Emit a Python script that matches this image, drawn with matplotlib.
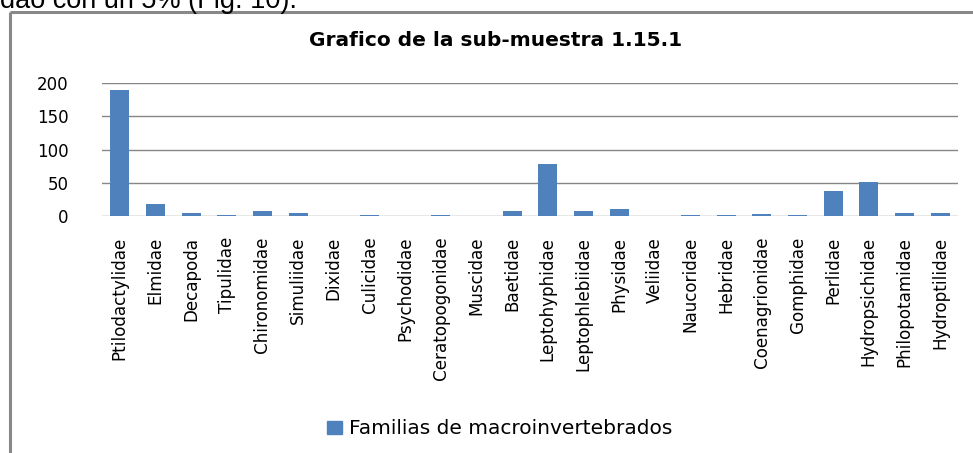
import matplotlib
matplotlib.use("Agg")
import matplotlib.pyplot as plt
from matplotlib.lines import Line2D

plt.rcParams['font.family'] = ['DejaVu Sans']

categories = ["Ptilodactylidae", "Elmidae", "Decapoda", "Tipulidae", "Chironomidae",
              "Simuliidae", "Dixidae", "Culicidae", "Psychodidae", "Ceratopogonidae",
              "Muscidae", "Baetidae", "Leptohyphidae", "Leptophlebiidae", "Physidae",
              "Veliidae", "Naucoridae", "Hebridae", "Coenagrionidae", "Gomphidae",
              "Perlidae", "Hydropsichidae", "Philopotamidae", "Hydroptilidae"]
values = [190, 18, 5, 2, 8, 4, 0, 2, 0, 2, 0, 8, 79, 8, 11, 0, 2, 2, 3, 2, 38, 51, 5, 4]
yticks = [0, 50, 100, 150, 200]
series_name = "Familias de macroinvertebrados"
title = "Grafico de la sub-muestra 1.15.1"

W, H = 973, 453
fig = plt.figure(figsize=(W / 100, H / 100), dpi=100)
fig.patch.set_facecolor('white')

# clipped document text at the very top (as in the reference)
fig.text(0.0, 1 - 7.5 / H, "dao con un 5% (Fig. 10).", fontsize=19.5,
         family=['Liberation Sans', 'DejaVu Sans'],
         ha='left', va='baseline', color='black')

# chart frame (left and top visible, others clipped)
gray = '#888888'
fig.add_artist(Line2D([9.5 / W, 9.5 / W], [-0.05, 1 - 11.5 / H], transform=fig.transFigure,
                      color=gray, lw=2.2, solid_capstyle='butt'))
fig.add_artist(Line2D([9.5 / W, 1.05], [1 - 12 / H, 1 - 12 / H], transform=fig.transFigure,
                      color=gray, lw=2.2, solid_capstyle='butt'))

ax_l, ax_r = 102 / W, 958 / W
ax_b, ax_t = 1 - 216 / H, 1 - 83.3 / H
ax = fig.add_axes([ax_l, ax_b, ax_r - ax_l, ax_t - ax_b])
x = list(range(len(categories)))
ax.bar(x, values, width=0.54, color='#4F81BD', zorder=3)
ax.set_xlim(-0.5, len(categories) - 0.5)
ax.set_ylim(0, 200)
ax.set_yticks(yticks)
ax.set_yticklabels([str(v) for v in yticks], fontsize=12)
ax.set_xticks(x)
ax.set_xticklabels(categories, rotation=90, fontsize=12.1, ha='center', va='top')
ax.tick_params(axis='y', length=0, pad=24)
ax.tick_params(axis='x', length=0, pad=15)
for s in ax.spines.values():
    s.set_visible(False)
ax.grid(axis='y', color='#868686', lw=1.0, zorder=1)
ax.set_axisbelow(True)

fig.text(496 / W, 1 - 41 / H, title, fontsize=14.5, fontweight='bold',
         ha='center', va='center')

handle = plt.Rectangle((0, 0), 1, 1, color='#4F81BD')
fig.legend([handle], [series_name], loc='center', bbox_to_anchor=(500 / W, 1 - 429 / H),
           frameon=False, fontsize=14.5, handlelength=0.75, handleheight=0.6,
           handletextpad=0.35, borderpad=0)

fig.savefig("out.png", dpi=100)
